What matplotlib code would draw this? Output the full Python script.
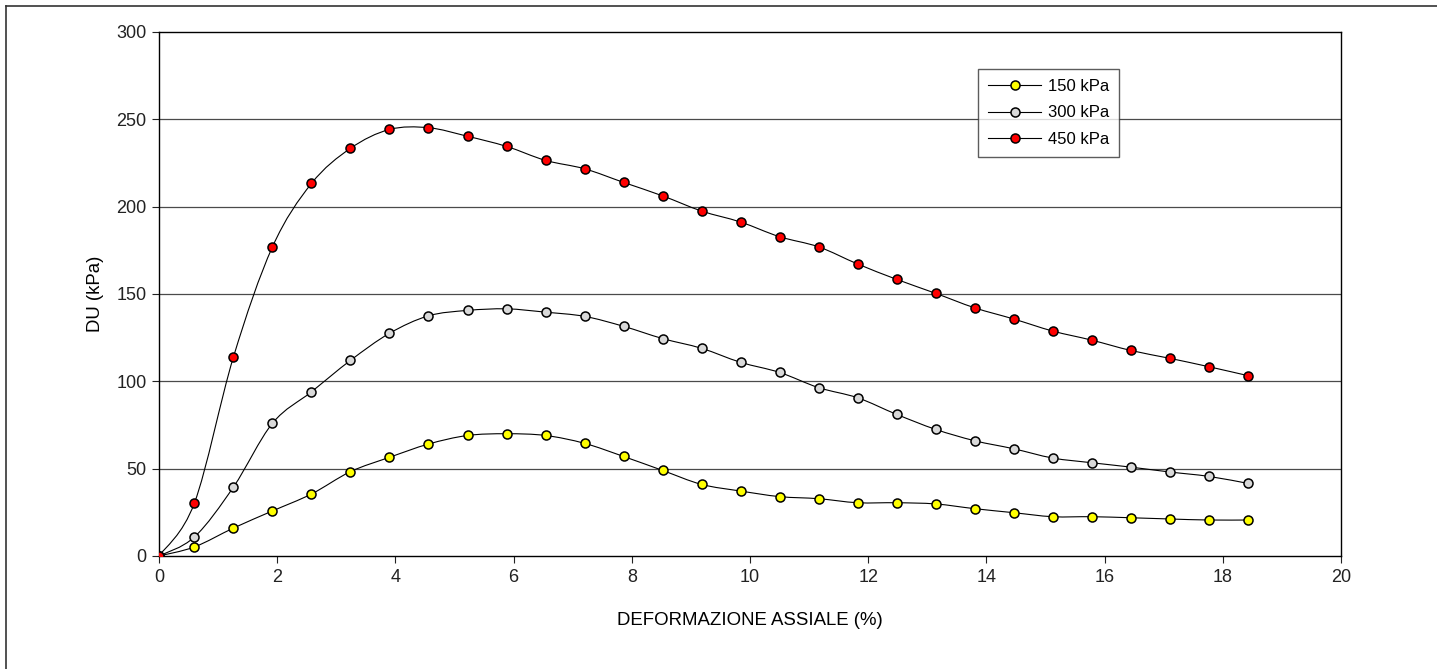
"""DU vs axial strain plot."""
import matplotlib

matplotlib.use("Agg")
import matplotlib.pyplot as plt
from matplotlib.lines import Line2D
from matplotlib.patches import PathPatch
from matplotlib.path import Path

plt.rcParams["font.family"] = ["Liberation Sans", "DejaVu Sans"]

# %% Data
strain = [0, 0.60, 1.26, 1.92, 2.58, 3.24, 3.90, 4.56, 5.22, 5.88, 6.54, 7.20,
          7.86, 8.52, 9.18, 9.84, 10.50, 11.16, 11.82, 12.48, 13.14, 13.80,
          14.46, 15.12, 15.78, 16.44, 17.10, 17.76, 18.42]
du_150 = [0, 5.2, 16, 25.8, 35.5, 48.3, 56.5, 64.1, 69, 70, 69, 64.5, 57, 49,
          41, 37.2, 34, 32.8, 30.5, 30.5, 29.8, 27.1, 24.8, 22.5, 22.5, 21.9,
          21.2, 20.6, 20.6]
du_300 = [0, 10.9, 39.5, 76, 94, 112, 127.5, 137.5, 140.6, 141.5, 139.6, 137.2,
          131.5, 124.5, 118.9, 110.9, 105.1, 96.4, 90.6, 81.1, 72.5, 66.0, 61.4,
          56.1, 53.4, 50.9, 48.1, 45.6, 41.6]
du_450 = [0, 30.4, 114, 177, 213.3, 233.4, 244.2, 245.2, 240.3, 234.5, 226.5,
          221.7, 213.9, 206.2, 197.5, 191.2, 182.8, 177, 167.2, 158.4, 150.4,
          142.1, 135.7, 128.8, 123.6, 117.7, 113.2, 108.4, 103.3]
labels = ["150 kPa", "300 kPa", "450 kPa"]
face_colors = ["#FFFF00", "#D9D9D9", "#FF0000"]


def smooth_path(xs, ys):
    """Excel-like smoothed line as cubic Bezier path."""
    pts = list(zip(xs, ys))
    n = len(pts)
    verts = [pts[0]]
    codes = [Path.MOVETO]
    for i in range(n - 1):
        p0 = pts[max(i - 1, 0)]
        p1 = pts[i]
        p2 = pts[i + 1]
        p3 = pts[min(i + 2, n - 1)]
        c1 = (p1[0] + (p2[0] - p0[0]) / 6, p1[1] + (p2[1] - p0[1]) / 6)
        c2 = (p2[0] - (p3[0] - p1[0]) / 6, p2[1] - (p3[1] - p1[1]) / 6)
        verts += [c1, c2, p2]
        codes += [Path.CURVE4] * 3
    return Path(verts, codes)


# %% Figure
fig = plt.figure(figsize=(14.37, 6.69), dpi=100)
ax = fig.add_axes([159 / 1437, 1 - 556 / 669, (1341 - 159) / 1437, (556 - 32) / 669])

# outer frame (top and left edges)
fig.add_artist(Line2D([6 / 1437, 1], [1 - 6 / 669, 1 - 6 / 669], color="#333333", lw=1.2))
fig.add_artist(Line2D([6 / 1437, 6 / 1437], [0, 1 - 6 / 669], color="#333333", lw=1.2))

for y in range(50, 300, 50):
    ax.axhline(y, color="#4a4a4a", lw=0.9, zorder=1)

handles = []
for vals, lab, fc in zip([du_150, du_300, du_450], labels, face_colors):
    ax.add_patch(PathPatch(smooth_path(strain, vals), facecolor="none",
                           edgecolor="black", lw=0.8, zorder=2))
    ax.plot(strain, vals, linestyle="none", marker="o", markersize=6.5,
            markerfacecolor=fc, markeredgecolor="black", markeredgewidth=1.1,
            zorder=3)
    handles.append(Line2D([], [], color="black", lw=0.8, marker="o",
                          markersize=6.5, markerfacecolor=fc,
                          markeredgecolor="black", markeredgewidth=1.1,
                          label=lab))

ax.set_xlim(0, 20)
ax.set_ylim(0, 300)
ax.set_xticks(range(0, 21, 2))
ax.set_yticks(range(0, 301, 50))
for s in ax.spines.values():
    s.set_color("black")
    s.set_linewidth(1.0)
ax.tick_params(axis="both", direction="out", length=5, width=0.8,
               colors="#222222", labelsize=13, pad=4)
ax.set_xlabel("DEFORMAZIONE ASSIALE (%)", fontsize=13.4, labelpad=19)
ax.set_ylabel("DU (kPa)", fontsize=13.4, labelpad=9)

leg = ax.legend(handles=handles, loc="upper left",
                bbox_to_anchor=((978 - 159) / 1182, 1 - (69 - 32) / 524),
                fontsize=12, frameon=True, fancybox=False, shadow=False,
                handlelength=3.2, handletextpad=0.4, borderpad=0.6,
                labelspacing=0.68, numpoints=1, borderaxespad=0)
leg.get_frame().set_edgecolor("#333333")
leg.get_frame().set_linewidth(1.0)

fig.savefig("out.png", dpi=100)
